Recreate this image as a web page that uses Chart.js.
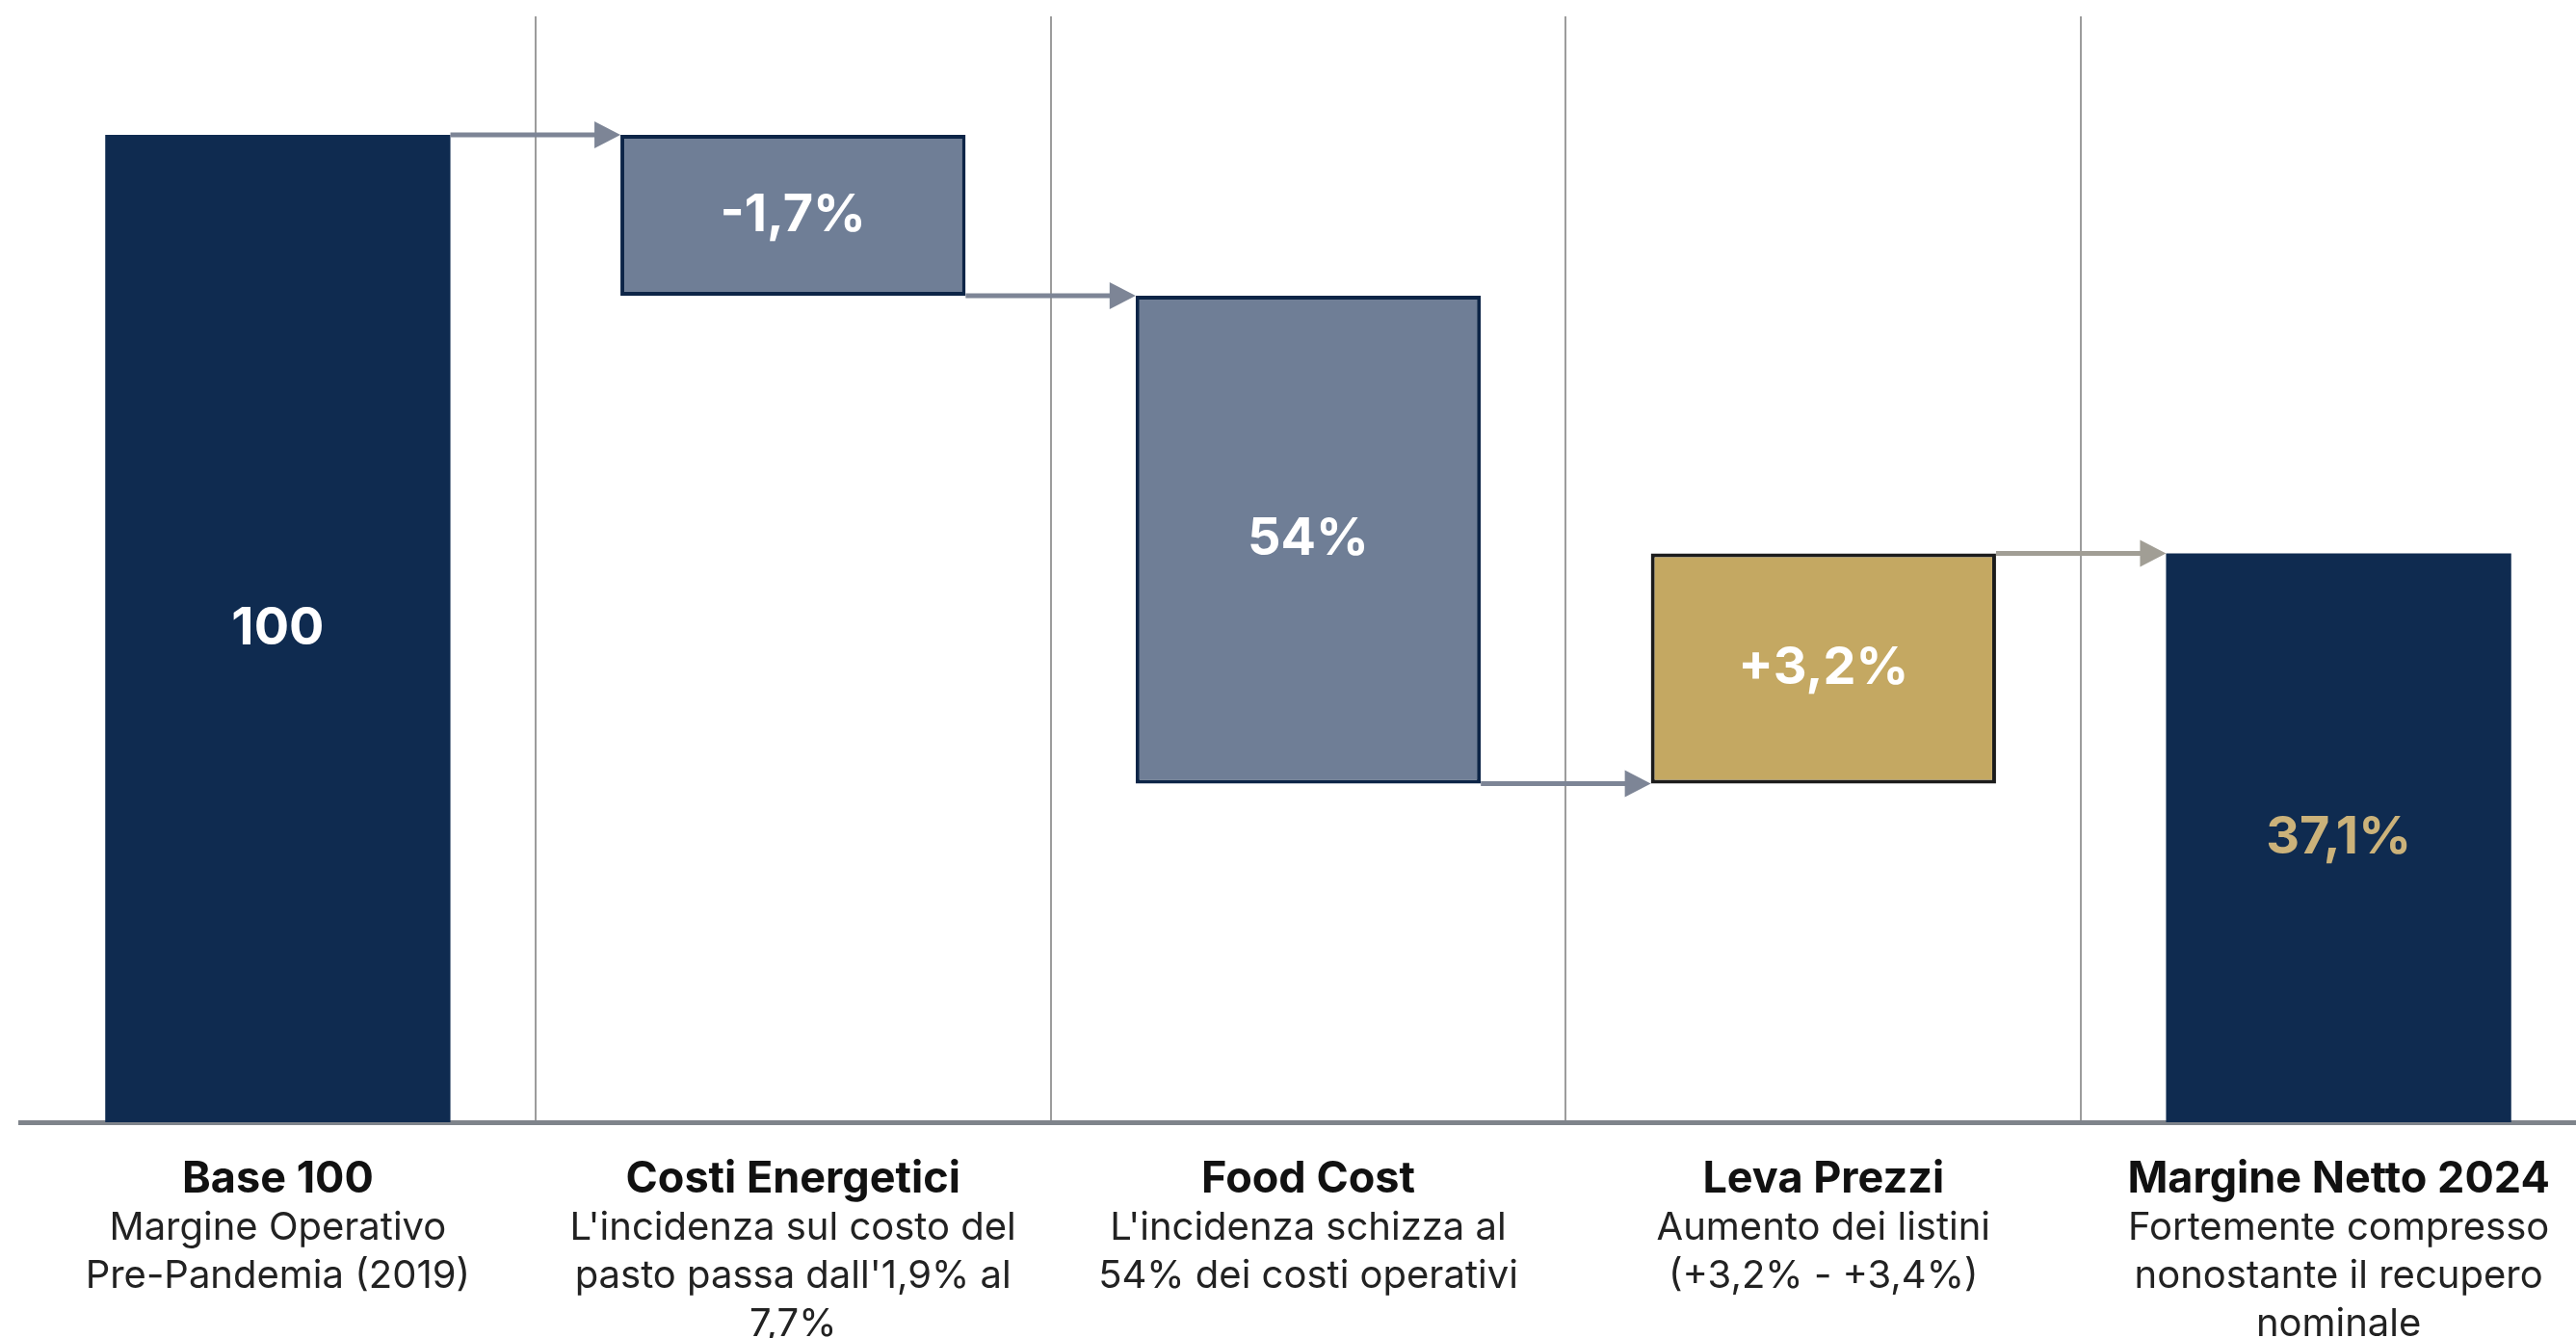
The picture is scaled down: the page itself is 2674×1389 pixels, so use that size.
<!DOCTYPE html>
<html>
<head>
<meta charset="utf-8">
<script src="https://cdn.jsdelivr.net/npm/chart.js@4.4.1/dist/chart.umd.min.js"></script>
<style>
  html, body { margin: 0; padding: 0; background: #fff; overflow: hidden; }
  canvas { display: block; }
</style>
</head>
<body>
<canvas id="waterfall" width="2700" height="1389"></canvas>
<script>
const categories = ['Base 100', 'Costi Energetici', 'Food Cost', 'Leva Prezzi', 'Margine Netto 2024'];
const subtitles = [
  ['Margine Operativo', 'Pre-Pandemia (2019)'],
  ["L'incidenza sul costo del", "pasto passa dall'1,9% al", '7,7%'],
  ["L'incidenza schizza al", '54% dei costi operativi'],
  ['Aumento dei listini', '(+3,2% - +3,4%)'],
  ['Fortemente compresso', 'nonostante il recupero', 'nominale']
];
// floating bars [low, high] (base = 100)
const barRanges = [[0, 100], [83.7, 100], [34.3, 83.7], [34.3, 57.6], [0, 57.6]];
const barLabels = ['100', '-1,7%', '54%', '+3,2%', '37,1%'];

const barColors = ['#0f2b50', '#6f7e96', '#6f7e96', '#c4a862', '#0f2b50'];
const barBorders = ['#0f2b50', '#0d2547', '#0d2547', '#1c1c1c', '#0f2b50'];
const barBorderW = [0, 4, 4, 4, 0];
const labelColors = ['#ffffff', '#ffffff', '#ffffff', '#ffffff', '#cbb27a'];
const arrowColors = ['#7d8596', '#7d8596', '#7d8596', '#a19e95'];

const FONT = 'Inter, "Noto Sans", sans-serif';

const waterfallDecor = {
  id: 'waterfallDecor',
  afterDatasetsDraw(chart) {
    const ctx = chart.ctx;
    const bars = chart.getDatasetMeta(0).data;
    const y = chart.scales.y;

    // connecting arrows
    for (let i = 0; i < bars.length - 1; i++) {
      const a = barRanges[i], b = barRanges[i + 1];
      const level = a.find(v => b.includes(v));
      const py = y.getPixelForValue(level);
      const x0 = bars[i].x + bars[i].width / 2;
      const x1 = bars[i + 1].x - bars[i + 1].width / 2;
      const head = 27;
      ctx.save();
      ctx.strokeStyle = arrowColors[i];
      ctx.fillStyle = arrowColors[i];
      ctx.lineWidth = 5;
      ctx.beginPath();
      ctx.moveTo(x0, py);
      ctx.lineTo(x1 - head + 2, py);
      ctx.stroke();
      ctx.beginPath();
      ctx.moveTo(x1, py);
      ctx.lineTo(x1 - head, py - 14);
      ctx.lineTo(x1 - head, py + 14);
      ctx.closePath();
      ctx.fill();
      ctx.restore();
    }

    // value labels inside the bars
    ctx.save();
    ctx.font = 'bold 54px ' + FONT;
    ctx.textAlign = 'center';
    ctx.textBaseline = 'middle';
    bars.forEach((bar, i) => {
      ctx.fillStyle = labelColors[i];
      ctx.fillText(barLabels[i], bar.x, (bar.y + bar.base) / 2);
    });
    ctx.restore();

    // category labels under the axis
    const x = chart.scales.x;
    const axisY = chart.chartArea.bottom;
    ctx.save();
    ctx.textAlign = 'center';
    ctx.textBaseline = 'middle';
    categories.forEach((cat, i) => {
      const cx = x.getPixelForValue(i);
      ctx.fillStyle = '#111111';
      ctx.font = 'bold 45px ' + FONT;
      ctx.fillText(cat, cx, axisY + 59);
      ctx.fillStyle = '#222222';
      ctx.font = '40px ' + FONT;
      subtitles[i].forEach((line, j) => {
        ctx.fillText(line, cx, axisY + 110 + j * 50);
      });
    });
    ctx.restore();
  }
};

new Chart(document.getElementById('waterfall'), {
  type: 'bar',
  data: {
    labels: categories,
    datasets: [{
      data: barRanges,
      backgroundColor: barColors,
      borderColor: barBorders,
      borderWidth: barBorderW,
      borderSkipped: false,
      barPercentage: 0.67,
      categoryPercentage: 1
    }]
  },
  options: {
    responsive: false,
    animation: false,
    layout: { padding: { left: 21, right: 5, top: 17, bottom: 224 } },
    plugins: { legend: { display: false }, tooltip: { enabled: false } },
    scales: {
      x: {
        grid: {
          offset: true,
          drawTicks: false,
          lineWidth: 2,
          color: c => c.index === 0 ? 'rgba(0,0,0,0)' : '#9c9c9c'
        },
        border: { display: true, color: '#7f848b', width: 5 },
        ticks: { display: false }
      },
      y: {
        display: false,
        min: 0,
        max: 112
      }
    }
  },
  plugins: [waterfallDecor]
});
</script>
</body>
</html>
